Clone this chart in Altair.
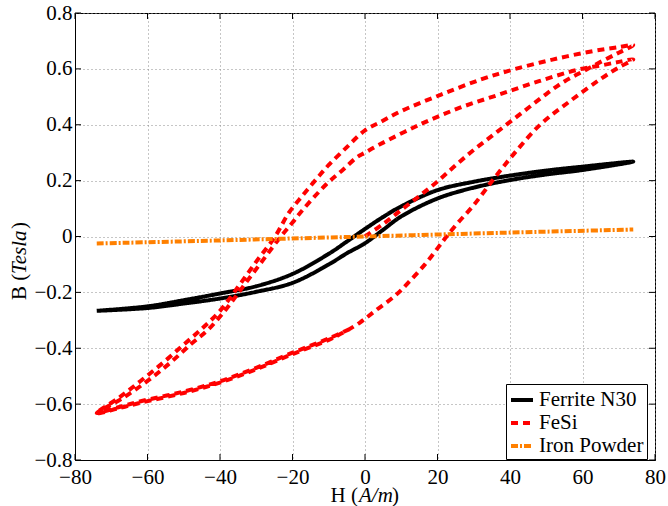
import altair as alt
import pandas as pd

# ---------------- data ----------------
h_ticks = [-80, -60, -40, -20, 0, 20, 40, 60, 80]
b_ticks = [-0.8, -0.6, -0.4, -0.2, 0, 0.2, 0.4, 0.6, 0.8]

series_names = ["Ferrite N30", "FeSi", "Iron Powder"]
series_colors = ["#000000", "#ff0000", "#ff8000"]
series_dash = [[1, 0], [7, 5], [7, 2, 2, 2]]
series_width = [4, 4, 1.5]

# Ferrite N30: ascending branch then descending branch
ferrite_H = [-74, -60, -50, -40, -30, -20, -10, -5, 0, 5, 10, 20, 30, 40, 50, 60, 74,
             60, 50, 40, 30, 20, 10, 5, 0, -5, -10, -20, -30, -40, -50, -60, -74]
ferrite_B = [-0.266, -0.256, -0.240, -0.222, -0.198, -0.166, -0.100, -0.060, -0.024, 0.024,
             0.072, 0.136, 0.175, 0.202, 0.222, 0.238, 0.268,
             0.250, 0.236, 0.218, 0.196, 0.166, 0.108, 0.070, 0.027, -0.018, -0.062,
             -0.134, -0.178, -0.204, -0.228, -0.250, -0.266]

# FeSi: initial curve, descending 1, ascending 1, descending 2, ascending 2 (partial)
fesi_H = [0, 5, 10, 15, 20, 25, 30, 35, 40, 45, 50, 55, 60, 65, 70, 74,
          70, 63, 52, 41, 32, 21, 10, 4, 0, -5, -10, -13, -17, -21, -24.8, -30, -35, -40,
          -45, -50, -56, -62, -68, -74,
          -68, -61.6, -50, -40, -30, -20, -10, -6, -1.4, 2.8, 8.3, 12.4, 16.6, 20.2, 22.5,
          25.7, 29.9, 35.4, 40.9, 48.3, 56.6, 64.8, 70, 74,
          70, 65, 59, 48, 37, 26, 15, 4, 0, -2.3, -6, -10.6, -17, -20, -23.4, -28, -33,
          -38, -43, -48, -54, -60, -67, -74,
          -68, -61.6, -50, -40, -30, -20, -10, -4]
fesi_B = [0.0, 0.045, 0.095, 0.145, 0.197, 0.255, 0.31, 0.36, 0.41, 0.46, 0.51, 0.555, 0.59,
          0.625, 0.658, 0.685,
          0.678, 0.664, 0.634, 0.598, 0.562, 0.508, 0.449, 0.408, 0.38, 0.32, 0.256, 0.212,
          0.15, 0.085, 0.0, -0.09, -0.18, -0.266, -0.33, -0.387, -0.455, -0.518, -0.578, -0.632,
          -0.615, -0.594, -0.56, -0.523, -0.475, -0.421, -0.37, -0.344, -0.308, -0.266, -0.212,
          -0.159, -0.099, -0.039, 0.0, 0.05, 0.111, 0.204, 0.293, 0.40, 0.485, 0.562, 0.605, 0.634,
          0.625, 0.612, 0.598, 0.556, 0.508, 0.46, 0.40, 0.329, 0.30, 0.283, 0.24, 0.188, 0.098,
          0.05, -0.003, -0.082, -0.168, -0.255, -0.33, -0.385, -0.455, -0.517, -0.58, -0.632,
          -0.611, -0.589, -0.555, -0.518, -0.47, -0.416, -0.365, -0.33]

# Iron powder: nearly linear
iron_H = [-74, -40, 0, 40, 74]
iron_B = [-0.025, -0.014, 0.0, 0.014, 0.025]

rows = []
for name, Hs, Bs in [("Ferrite N30", ferrite_H, ferrite_B),
                     ("FeSi", fesi_H, fesi_B),
                     ("Iron Powder", iron_H, iron_B)]:
    for i, (h, b) in enumerate(zip(Hs, Bs)):
        rows.append({"series": name, "idx": i, "H": h, "B": b})
df = pd.DataFrame(rows)

W, HT = 580, 447
FONT = "Liberation Serif"
FS = 21

xscale = alt.Scale(domain=[-80, 80], nice=False, zero=False)
yscale = alt.Scale(domain=[-0.8, 0.8], nice=False, zero=False)

def leg():
    return alt.Legend(title=None, orient="none", legendX=431, legendY=371)

lines = alt.Chart(df).mark_line(strokeCap="butt", strokeJoin="round",
                                interpolate="catmull-rom").encode(
    x=alt.X("H:Q", scale=xscale,
            axis=alt.Axis(values=h_ticks, title=None, ticks=False, labelFlush=False,
                          labelOverlap=False, labelPadding=6, grid=True,
                          labelFont=FONT, labelFontSize=FS, labelColor="black")),
    y=alt.Y("B:Q", scale=yscale,
            axis=alt.Axis(values=b_ticks, title=None, ticks=False, labelFlush=False,
                          labelOverlap=False, labelPadding=3, grid=True,
                          labelFont=FONT, labelFontSize=FS, labelColor="black",
                          labelExpr="datum.value == 0 ? '0' : format(datum.value, '.1f')")),
    color=alt.Color("series:N", scale=alt.Scale(domain=series_names, range=series_colors),
                    legend=leg()),
    strokeDash=alt.StrokeDash("series:N", scale=alt.Scale(domain=series_names, range=series_dash),
                              legend=leg()),
    strokeWidth=alt.StrokeWidth("series:N", scale=alt.Scale(domain=series_names, range=series_width),
                                legend=leg()),
    order=alt.Order("idx:Q"),
)

xt = pd.DataFrame({"H": h_ticks})
yt = pd.DataFrame({"B": b_ticks})
tick_bottom = alt.Chart(xt).mark_rule(color="black", strokeWidth=1).encode(
    x=alt.X("H:Q", scale=xscale), y=alt.value(HT), y2=alt.value(HT - 6))
tick_top = alt.Chart(xt).mark_rule(color="black", strokeWidth=1).encode(
    x=alt.X("H:Q", scale=xscale), y=alt.value(0), y2=alt.value(6))
tick_left = alt.Chart(yt).mark_rule(color="black", strokeWidth=1).encode(
    y=alt.Y("B:Q", scale=yscale), x=alt.value(0), x2=alt.value(6))
tick_right = alt.Chart(yt).mark_rule(color="black", strokeWidth=1).encode(
    y=alt.Y("B:Q", scale=yscale), x=alt.value(W), x2=alt.value(W - 6))

one = pd.DataFrame({"a": [0]})
def txt(s, x, y, align, italic=False, angle=0):
    kw = dict(text=s, font=FONT, fontSize=FS, color="black", align=align, baseline="alphabetic")
    if italic:
        kw["fontStyle"] = "italic"
    if angle:
        kw["angle"] = angle
    return alt.Chart(one).mark_text(**kw).encode(x=alt.value(x), y=alt.value(y))

# x title "H (A/m)"
xt1 = txt("H (", 283, 489, "right")
xt2 = txt("A/m", 284, 489, "left", italic=True)
xt3 = txt(")", 317, 489, "left")
# y title "B (Tesla)" rotated
yt1 = txt("B (", -49, 287, "left", angle=270)
yt2 = txt("Tesla", -49, 261, "left", italic=True, angle=270)
yt3 = txt(")", -49, 216, "left", angle=270)

chart = alt.layer(lines, tick_bottom, tick_top, tick_left, tick_right,
                  xt1, xt2, xt3, yt1, yt2, yt3).properties(
    width=W, height=HT,
    background="white",
    padding={"left": 75, "top": 13, "right": 13, "bottom": 46},
    autosize=alt.AutoSizeParams(type="none"),
).configure_view(stroke="black", strokeWidth=1).configure_axis(
    labelFont=FONT, labelFontSize=FS, labelColor="black",
    domainColor="black", domainWidth=1,
    gridColor="#8c8c8c", gridDash=[1, 3], gridWidth=1, gridOpacity=1,
).configure_legend(
    fillColor="white", strokeColor="black", padding=3,
    labelFont=FONT, labelFontSize=21, labelColor="black",
    symbolType="stroke", symbolSize=484, labelOffset=4,
    rowPadding=-2, labelLimit=0,
)

chart.save("out.html", embed_options={"renderer": "svg", "actions": False})
